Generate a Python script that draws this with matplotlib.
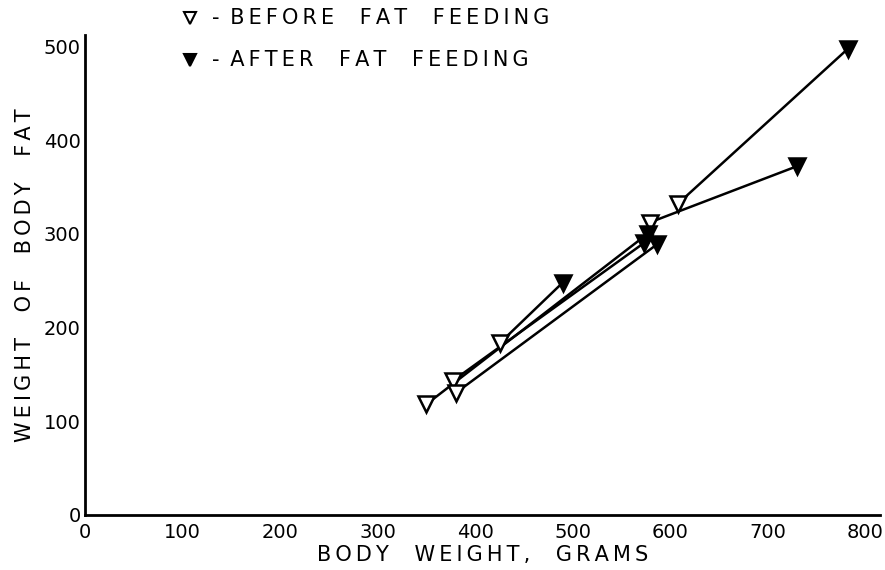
import matplotlib
matplotlib.use('Agg')
import matplotlib.pyplot as plt
from matplotlib.lines import Line2D

# body weight (g) and body fat (g), before and after fat feeding, one pair per animal
before_w = [350, 377, 380, 426, 579, 608]
before_f = [118, 143, 130, 184, 312, 332]
after_w = [577, 573, 587, 490, 730, 782]
after_f = [300, 290, 289, 248, 372, 497]

xticks = [0, 100, 200, 300, 400, 500, 600, 700, 800]
yticks = [0, 100, 200, 300, 400, 500]


def spaced(s):
    # hand-lettered look: widen the gaps between letters
    return '\u2009'.join(s)


plt.rcParams['font.family'] = 'DejaVu Sans'

fig = plt.figure(figsize=(8.85, 5.7), dpi=100)
ax = fig.add_axes([0.096, 0.0965, 0.898, 0.842])

# lines joining each animal's before and after point
for bw, bf, aw, af in zip(before_w, before_f, after_w, after_f):
    ax.plot([bw, aw], [bf, af], color='black', lw=1.8, zorder=1)

ax.plot(before_w, before_f, ls='none', marker='v', ms=11, mfc='white',
        mec='black', mew=1.8, zorder=3)
ax.plot(after_w, after_f, ls='none', marker='v', ms=11, mfc='black',
        mec='black', mew=1.8, zorder=3)

ax.set_xlim(0, 815)
ax.set_ylim(0, 512)
ax.set_xticks(xticks)
ax.set_yticks(yticks)
ax.tick_params(length=0, labelsize=14, pad=3)
ax.tick_params(axis='x', pad=6)
for s in ['top', 'right']:
    ax.spines[s].set_visible(False)
for s in ['left', 'bottom']:
    ax.spines[s].set_linewidth(2)

ax.set_xlabel(spaced('BODY  WEIGHT,  GRAMS'), fontsize=15, labelpad=2)
ax.set_ylabel(spaced('WEIGHT  OF  BODY  FAT'), fontsize=15, labelpad=6)

# legend drawn as free text at the top
fig.add_artist(Line2D([0.215], [0.968], ls='none', marker='v', ms=9, mfc='white',
                      mec='black', mew=1.5, transform=fig.transFigure))
fig.add_artist(Line2D([0.215], [0.895], ls='none', marker='v', ms=9, mfc='black',
                      mec='black', mew=1.5, transform=fig.transFigure))
fig.text(0.240, 0.968, '- \u2009' + spaced('BEFORE  FAT  FEEDING'), fontsize=15, va='center')
fig.text(0.240, 0.895, '- \u2009' + spaced('AFTER  FAT  FEEDING'), fontsize=15, va='center')

fig.savefig('out.png', dpi=100)
